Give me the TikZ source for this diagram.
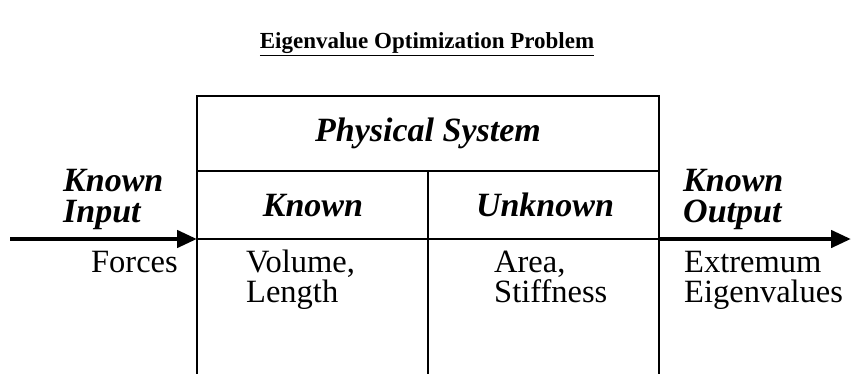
\documentclass[tikz,border=0pt]{standalone}
\usepackage{fontspec}
\setmainfont{Liberation Serif}
\usetikzlibrary{arrows.meta}
\tikzset{
  txt/.style={inner sep=0pt, align=left, font=\fontsize{32.5}{30}\selectfont},
  head/.style={txt, font=\fontsize{34}{31}\selectfont\bfseries\itshape},
  frame/.style={line width=2.2pt},
  flow/.style={line width=4.5pt}
}
\begin{document}
\begin{tikzpicture}[x=1pt,y=-1pt,>={Triangle[length=20pt,width=17pt]}]
\useasboundingbox (0,0) rectangle (852,373);
% title
\node (title) at (427,44) {\fontsize{23}{28}\selectfont\bfseries\underline{Eigenvalue Optimization Problem}};
% the box
\coordinate (tl) at (197,96);
\coordinate (tr) at (659,96);
\coordinate (bl) at (197,374);
\coordinate (br) at (659,374);
\coordinate (hl) at (197,171);
\coordinate (hr) at (659,171);
\coordinate (dt) at (428,171);
\coordinate (db) at (428,374);
\coordinate (ml) at (197,239);
\coordinate (mr) at (659,239);
\draw[frame] (bl) -- (tl) -- (tr) -- (br);
\draw[frame] (hl) -- (hr);
\draw[frame] (dt) -- (db);
\draw[frame] (ml) -- (mr);
% input and output
\coordinate (in) at (10,239);
\coordinate (out) at (851,239);
\draw[flow,->] (in) -- (ml);
\draw[flow,->] (mr) -- (out);
% labels (base = last line)
\node[head] (phys) at (428,133) {Physical System};
\node[head,anchor=base] (known) at (313,216) {Known};
\node[head,anchor=base] (unknown) at (545,216) {Unknown};
\node[head,anchor=base west] (kin) at (63,222) {Known\\Input};
\node[head,anchor=base west] (kout) at (683,222) {Known\\Output};
\node[txt,anchor=base east] (forces) at (178,272) {Forces};
\node[txt,anchor=base west] (vol) at (246,302) {Volume,\\Length};
\node[txt,anchor=base west] (area) at (494,302) {Area,\\Stiffness};
\node[txt,anchor=base west] (extr) at (684,302) {Extremum\\Eigenvalues};
\end{tikzpicture}
\end{document}
